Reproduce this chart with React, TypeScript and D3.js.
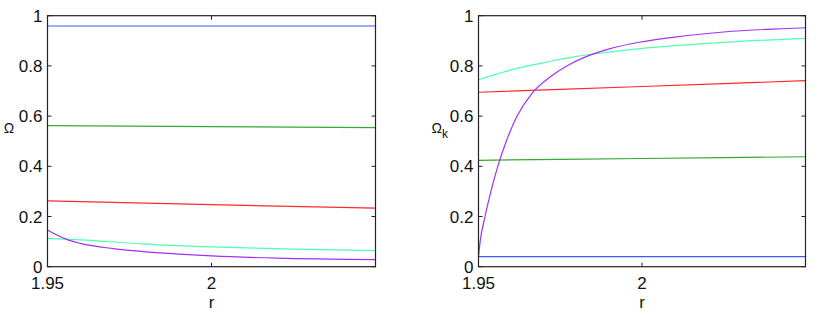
import React from "react";
import * as d3 from "d3";

const xTicks = [1.95, 2.0];
const xTickLabels = ["1.95", "2"];
const yTicks = [0, 0.2, 0.4, 0.6, 0.8, 1];
const yTickLabels = ["0", "0.2", "0.4", "0.6", "0.8", "1"];

// Left panel (Ω)
const leftBlue: [number, number][] = [[1.95, 0.959], [2.05, 0.959]];
const leftGreen: [number, number][] = [[1.95, 0.562], [2.0, 0.558], [2.05, 0.554]];
const leftRed: [number, number][] = [[1.95, 0.262], [2.0, 0.247], [2.05, 0.233]];
const leftCyan: [number, number][] = [[1.95, 0.113], [1.96, 0.107], [1.98, 0.090], [2.0, 0.079], [2.025, 0.070], [2.05, 0.064]];
const leftPurple: [number, number][] = [[1.95, 0.146], [1.953, 0.125], [1.9564, 0.106], [1.96, 0.093], [1.97, 0.072], [1.98, 0.059], [1.99, 0.050], [2.0, 0.043], [2.02, 0.034], [2.05, 0.028]];

// Right panel (Ω_k)
const rightBlue: [number, number][] = [[1.95, 0.04], [2.05, 0.04]];
const rightGreen: [number, number][] = [[1.95, 0.424], [2.0, 0.431], [2.05, 0.438]];
const rightRed: [number, number][] = [[1.95, 0.695], [2.0, 0.718], [2.05, 0.741]];
const rightCyan: [number, number][] = [[1.95, 0.745], [1.955, 0.765], [1.96, 0.785], [1.97, 0.813], [1.98, 0.838], [1.99, 0.855], [2.0, 0.870], [2.02, 0.890], [2.05, 0.910]];
const rightPurple: [number, number][] = [
  [1.95, 0.04], [1.9505, 0.10], [1.952, 0.20], [1.9538, 0.30], [1.9559, 0.40],
  [1.9585, 0.50], [1.9618, 0.60], [1.9663, 0.69], [1.972, 0.757], [1.977, 0.80],
  [1.982, 0.832], [1.99, 0.868], [2.0, 0.896], [2.01, 0.915], [2.025, 0.935], [2.05, 0.952],
];

const colors = {
  blue: "#3b5bff",
  green: "#35a835",
  red: "#ff2a2a",
  cyan: "#4dffb0",
  purple: "#a030f8",
};

const FONT = "'Liberation Sans', Arial, Helvetica, sans-serif";

type Series = { data: [number, number][]; color: string };

function Panel({ x0, x1, y0, y1, series, label }: { x0: number; x1: number; y0: number; y1: number; series: Series[]; label: React.ReactNode }) {
  const x = d3.scaleLinear().domain([1.95, 2.05]).range([x0, x1]);
  const y = d3.scaleLinear().domain([0, 1]).range([y1, y0]);
  const line = d3
    .line<[number, number]>()
    .x((d) => x(d[0]))
    .y((d) => y(d[1]))
    .curve(d3.curveMonotoneX);
  const tl = 4;
  return (
    <g>
      <rect x={x0} y={y0} width={x1 - x0} height={y1 - y0} fill="white" />
      {series.map((s, i) => (
        <path key={i} d={line(s.data) || ""} fill="none" stroke={s.color} strokeWidth={1.2} />
      ))}
      {yTicks.map((t, i) => (
        <g key={"y" + i}>
          <line x1={x0} x2={x0 + tl} y1={y(t)} y2={y(t)} stroke="#222" strokeWidth={1} />
          <line x1={x1} x2={x1 - tl} y1={y(t)} y2={y(t)} stroke="#222" strokeWidth={1} />
          <text x={x0 - 5} y={y(t) + 6} textAnchor="end" fontSize={17} fontFamily={FONT} fill="#111">
            {yTickLabels[i]}
          </text>
        </g>
      ))}
      {xTicks.map((t, i) => (
        <g key={"x" + i}>
          <line x1={x(t)} x2={x(t)} y1={y1} y2={y1 - tl} stroke="#222" strokeWidth={1} />
          <line x1={x(t)} x2={x(t)} y1={y0} y2={y0 + tl} stroke="#222" strokeWidth={1} />
          <text x={x(t)} y={y1 + 22} textAnchor="middle" fontSize={17} fontFamily={FONT} fill="#111">
            {xTickLabels[i]}
          </text>
        </g>
      ))}
      <rect x={x0} y={y0} width={x1 - x0} height={y1 - y0} fill="none" stroke="#222" strokeWidth={1.2} />
      <text x={(x0 + x1) / 2} y={308} textAnchor="middle" fontSize={17} fontFamily={FONT} fill="#111">
        r
      </text>
      {label}
    </g>
  );
}

export default function App() {
  const leftSeries: Series[] = [
    { data: leftBlue, color: colors.blue },
    { data: leftGreen, color: colors.green },
    { data: leftRed, color: colors.red },
    { data: leftCyan, color: colors.cyan },
    { data: leftPurple, color: colors.purple },
  ];
  const rightSeries: Series[] = [
    { data: rightBlue, color: colors.blue },
    { data: rightGreen, color: colors.green },
    { data: rightRed, color: colors.red },
    { data: rightCyan, color: colors.cyan },
    { data: rightPurple, color: colors.purple },
  ];
  return (
    <svg width={830} height={317} style={{ position: "absolute", left: 0, top: 0, background: "white" }}>
      <rect width={830} height={317} fill="white" />
      <Panel
        x0={47.5}
        x1={375.5}
        y0={15.7}
        y1={266.7}
        series={leftSeries}
        label={
          <text x={9} y={133} textAnchor="middle" fontSize={14} fontFamily={FONT} fill="#111">
            Ω
          </text>
        }
      />
      <Panel
        x0={478.5}
        x1={805.5}
        y0={15.7}
        y1={266.7}
        series={rightSeries}
        label={
          <text x={431.5} y={133} fontSize={14} fontFamily={FONT} fill="#111">
            Ω<tspan fontSize={12} dy={5}>k</tspan>
          </text>
        }
      />
    </svg>
  );
}
